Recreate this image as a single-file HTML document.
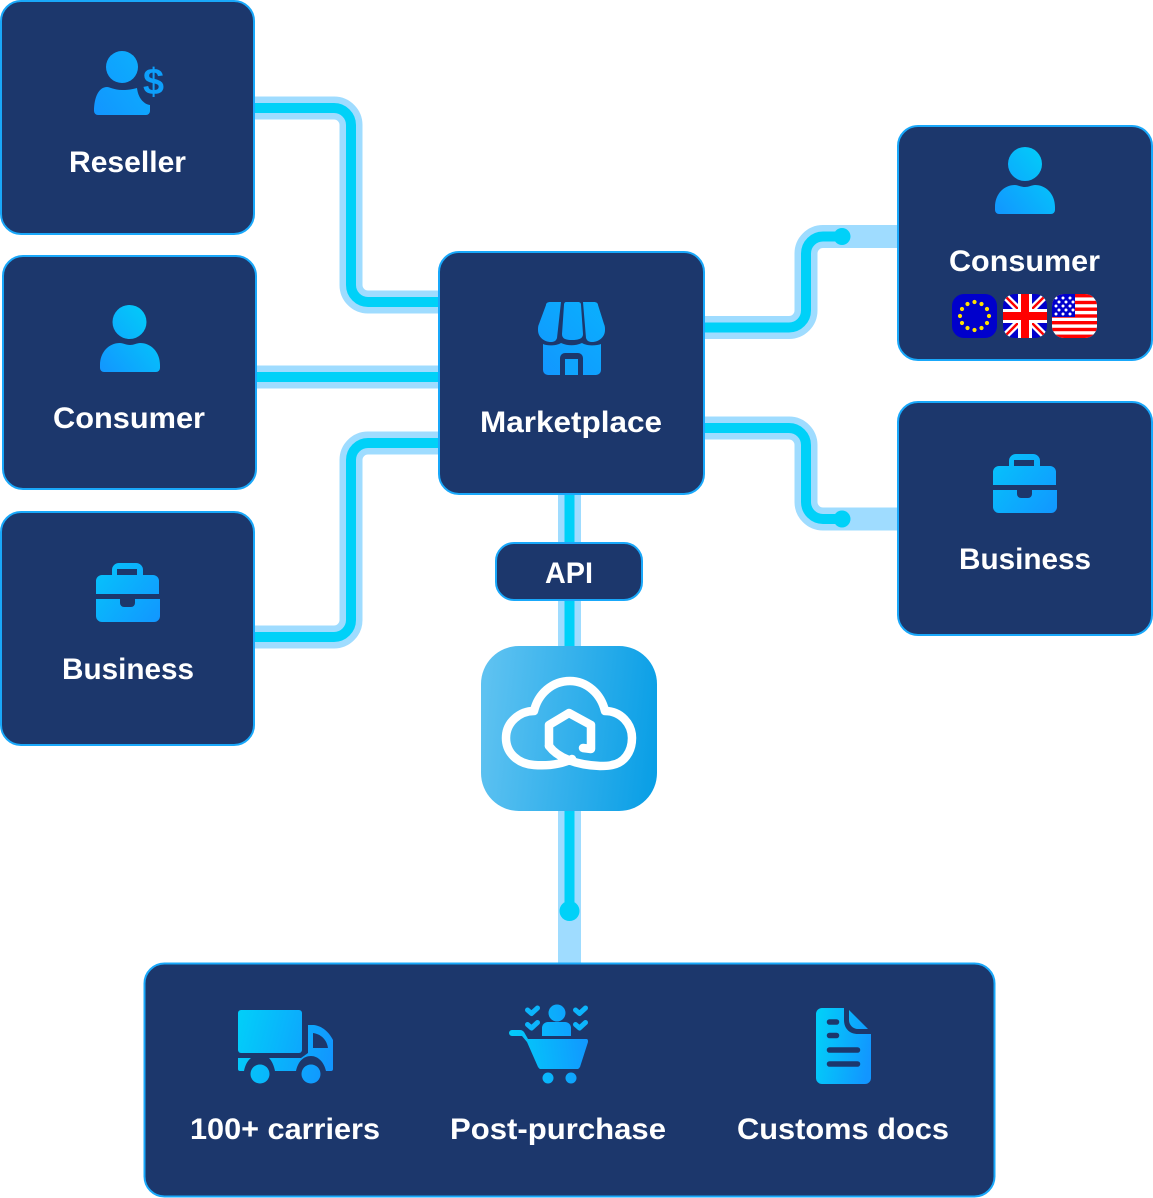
<!DOCTYPE html>
<html>
<head>
<meta charset="utf-8">
<style>
html,body{margin:0;padding:0;background:#fff}
svg{display:block}
text{font-family:"Liberation Sans",sans-serif;font-weight:700;font-size:30px;fill:#fff}
</style>
</head>
<body>
<svg width="1153" height="1198" viewBox="0 0 1153 1198" xmlns="http://www.w3.org/2000/svg">
<defs>
<linearGradient id="gRes" gradientUnits="userSpaceOnUse" x1="94" y1="110" x2="164" y2="60"><stop offset="0" stop-color="#1296ff"/><stop offset="1" stop-color="#0bb4fc"/></linearGradient>
<linearGradient id="gConL" gradientUnits="userSpaceOnUse" x1="100" y1="370" x2="160" y2="320"><stop offset="0" stop-color="#1296ff"/><stop offset="1" stop-color="#02cdf9"/></linearGradient>
<linearGradient id="gConR" gradientUnits="userSpaceOnUse" x1="995" y1="212" x2="1055" y2="162"><stop offset="0" stop-color="#1296ff"/><stop offset="1" stop-color="#02cdf9"/></linearGradient>
<linearGradient id="gStore" gradientUnits="userSpaceOnUse" x1="538" y1="375" x2="605" y2="302"><stop offset="0" stop-color="#1296ff"/><stop offset="1" stop-color="#0ab0fd"/></linearGradient>
<linearGradient id="gBagL" gradientUnits="userSpaceOnUse" x1="96" y1="570" x2="160" y2="622"><stop offset="0" stop-color="#06c2fb"/><stop offset="1" stop-color="#1296ff"/></linearGradient>
<linearGradient id="gBagR" gradientUnits="userSpaceOnUse" x1="993" y1="461" x2="1057" y2="513"><stop offset="0" stop-color="#06c2fb"/><stop offset="1" stop-color="#1296ff"/></linearGradient>
<linearGradient id="gTruck" gradientUnits="userSpaceOnUse" x1="238" y1="1030" x2="333" y2="1055"><stop offset="0" stop-color="#02cdf9"/><stop offset="1" stop-color="#1296ff"/></linearGradient>
<linearGradient id="gCart" gradientUnits="userSpaceOnUse" x1="510" y1="1050" x2="590" y2="1040"><stop offset="0" stop-color="#02cdf9"/><stop offset="1" stop-color="#1296ff"/></linearGradient>
<linearGradient id="gDoc" gradientUnits="userSpaceOnUse" x1="816" y1="1040" x2="871" y2="1050"><stop offset="0" stop-color="#02cdf9"/><stop offset="1" stop-color="#1296ff"/></linearGradient>
<linearGradient id="gLogo" x1="0" y1="0.45" x2="1" y2="0.55"><stop offset="0" stop-color="#5ec2f1"/><stop offset="1" stop-color="#0a9fe6"/></linearGradient>
<clipPath id="cEU"><rect x="952" y="294" width="45" height="44" rx="12"/></clipPath>
<clipPath id="cUK"><rect x="1003" y="294" width="44" height="44" rx="12"/></clipPath>
<clipPath id="cUS"><rect x="1052" y="294" width="45" height="44" rx="12"/></clipPath>
</defs>

<!-- connectors light -->
<g fill="none" stroke="#9fdcff" stroke-width="23">
<path d="M250 108H334a17 17 0 0 1 17 17V285a17 17 0 0 0 17 17H445"/>
<path d="M250 377H445"/>
<path d="M250 637H334a17 17 0 0 0 17 -17V460a17 17 0 0 1 17 -17H445"/>
<path d="M700 327.500H789a17 17 0 0 0 17 -17V253.500a17 17 0 0 1 17 -17H900"/>
<path d="M700 428H789a17 17 0 0 1 17 17V502a17 17 0 0 0 17 17H900"/>
<path d="M569.500 490V965"/>
</g>
<!-- connectors core -->
<g fill="none" stroke="#00d1f8" stroke-width="10">
<path d="M250 108H334a17 17 0 0 1 17 17V285a17 17 0 0 0 17 17H445"/>
<path d="M250 377H445"/>
<path d="M250 637H334a17 17 0 0 0 17 -17V460a17 17 0 0 1 17 -17H445"/>
<path d="M700 327.500H789a17 17 0 0 0 17 -17V253.500a17 17 0 0 1 17 -17H842"/>
<path d="M700 428H789a17 17 0 0 1 17 17V502a17 17 0 0 0 17 17H842"/>
<path d="M569.500 490V911"/>
</g>
<circle cx="842" cy="236.500" r="8.500" fill="#00d1f8"/>
<circle cx="842" cy="519" r="8.500" fill="#00d1f8"/>
<circle cx="569.500" cy="911" r="10" fill="#00d1f8"/>

<!-- boxes -->
<g fill="#1c376c" stroke="#19a8fa" stroke-width="2">
<rect x="1" y="1" width="253" height="233" rx="20"/>
<rect x="3" y="256" width="253" height="233" rx="20"/>
<rect x="1" y="512" width="253" height="233" rx="20"/>
<rect x="439" y="252" width="265" height="242" rx="20"/>
<rect x="898" y="126" width="254" height="234" rx="20"/>
<rect x="898" y="402" width="254" height="233" rx="20"/>
<rect x="496" y="543" width="146" height="57" rx="18"/>
<rect x="144.500" y="963.500" width="850" height="233" rx="20"/>
</g>

<!-- Reseller icon -->
<g fill="url(#gRes)">
<circle cx="122" cy="67" r="16"/>
<path d="M98 115h48a4 4 0 0 0 4-4v-6c-7-1-12-8-13-17c-3 1-8 2-15 2c-8 0-12-3-15-3c-8 0-13 10-13 24v0a4 4 0 0 0 4 4z"/>
</g>
<text x="143" y="94" style="font-size:37px;fill:#0d9ffb" textLength="21" lengthAdjust="spacingAndGlyphs">$</text>

<!-- Consumer left icon -->
<g fill="url(#gConL)">
<circle cx="129.500" cy="322" r="17"/>
<path d="M104 372h52a4 4 0 0 0 4-4v-3c0-13-9-22-20-22c-3 0-6 2-10 2s-7-2-10-2c-11 0-20 9-20 22v3a4 4 0 0 0 4 4z"/>
</g>
<!-- Consumer right icon -->
<g fill="url(#gConR)">
<circle cx="1025" cy="164" r="17"/>
<path d="M999 214h52a4 4 0 0 0 4-4v-3c0-13-9-22-20-22c-3 0-6 2-10 2s-7-2-10-2c-11 0-20 9-20 22v3a4 4 0 0 0 4 4z"/>
</g>

<!-- Briefcase left -->
<path fill="url(#gBagL)" fill-rule="evenodd" d="M112 575v-5a7 7 0 0 1 7-7h17a7 7 0 0 1 7 7v5h10a6 6 0 0 1 6 6v13H96v-13a6 6 0 0 1 6-6zM117 569v6h20v-6zM96 599h24v4a4 4 0 0 0 4 4h7a4 4 0 0 0 4-4v-4h25v17a6 6 0 0 1-6 6H102a6 6 0 0 1-6-6z"/>
<!-- Briefcase right -->
<path fill="url(#gBagR)" fill-rule="evenodd" d="M1009 466v-5a7 7 0 0 1 7-7h17a7 7 0 0 1 7 7v5h10a6 6 0 0 1 6 6v13H993v-13a6 6 0 0 1 6-6zM1014 460v6h20v-6zM993 490h24v4a4 4 0 0 0 4 4h7a4 4 0 0 0 4-4v-4h25v17a6 6 0 0 1-6 6H999a6 6 0 0 1-6-6z"/>

<!-- Store icon -->
<g fill="url(#gStore)">
<path d="M550 302h11l-4 36c-1 3-3 4-6 4c-7 0-13-5-13-12c0-2 0-4 1-6l7-19c0-2 2-3 4-3z"/>
<path d="M566 302h12c2 0 3 1 3 3l2 29c0 5-5 6-11 6s-10-1-10-6l2-29c0-2 1-3 2-3z"/>
<path d="M583 302h11c2 0 4 1 4 3l6 19c1 2 1 4 1 6c0 7-6 12-13 12c-3 0-5-1-6-4z"/>
<path fill-rule="evenodd" d="M543 344c4 2 13 2 18-1c7 3 14 3 21 0c5 3 14 3 19 1v26a5 5 0 0 1-5 5h-18v-16h-13v16h-17a5 5 0 0 1-5-5z"/>
<path d="M560 375v-17a5 5 0 0 1 5-5h13a5 5 0 0 1 5 5v17h-5v-16h-13v16z" fill="#1c376c"/>
<rect x="565" y="359" width="13" height="16" fill="#0fa4fe"/>
</g>

<!-- Flags -->
<g clip-path="url(#cEU)">
<rect x="952" y="294" width="45" height="44" fill="#0000cc"/>
<g fill="#ffe000">
<circle cx="974.500" cy="302" r="2.100"/><circle cx="981.500" cy="304" r="2.100"/><circle cx="987" cy="309" r="2.100"/><circle cx="989" cy="316" r="2.100"/><circle cx="987" cy="323" r="2.100"/><circle cx="981.500" cy="328" r="2.100"/><circle cx="974.500" cy="330" r="2.100"/><circle cx="967.500" cy="328" r="2.100"/><circle cx="962" cy="323" r="2.100"/><circle cx="960" cy="316" r="2.100"/><circle cx="962" cy="309" r="2.100"/><circle cx="967.500" cy="304" r="2.100"/>
</g>
</g>
<g clip-path="url(#cUK)">
<rect x="1003" y="294" width="44" height="44" fill="#0000cc"/>
<path d="M1003 294L1047 338M1047 294L1003 338" stroke="#fff" stroke-width="7"/>
<path d="M1003 294L1047 338M1047 294L1003 338" stroke="#f00" stroke-width="2.500"/>
<rect x="1018" y="294" width="14" height="44" fill="#fff"/>
<rect x="1003" y="309" width="44" height="14" fill="#fff"/>
<rect x="1021" y="294" width="8" height="44" fill="#f00"/>
<rect x="1003" y="312" width="44" height="8" fill="#f00"/>
</g>
<g clip-path="url(#cUS)">
<rect x="1052" y="294" width="45" height="44" fill="#fff"/>
<g fill="#f00">
<rect x="1052" y="294" width="45" height="3.400"/><rect x="1052" y="300.800" width="45" height="3.400"/><rect x="1052" y="307.500" width="45" height="3.400"/><rect x="1052" y="314.300" width="45" height="3.400"/><rect x="1052" y="321" width="45" height="3.400"/><rect x="1052" y="327.800" width="45" height="3.400"/><rect x="1052" y="334.600" width="45" height="3.400"/>
</g>
<rect x="1052" y="294" width="23" height="23" fill="#0000cc"/>
<g fill="#fff">
<circle cx="1056" cy="298" r="1.500"/><circle cx="1063" cy="298" r="1.500"/><circle cx="1070" cy="298" r="1.500"/>
<circle cx="1059" cy="302" r="1.500"/><circle cx="1066" cy="302" r="1.500"/><circle cx="1073" cy="302" r="1.500"/>
<circle cx="1056" cy="306" r="1.500"/><circle cx="1063" cy="306" r="1.500"/><circle cx="1070" cy="306" r="1.500"/>
<circle cx="1059" cy="310" r="1.500"/><circle cx="1066" cy="310" r="1.500"/><circle cx="1073" cy="310" r="1.500"/>
<circle cx="1056" cy="314" r="1.500"/><circle cx="1063" cy="314" r="1.500"/><circle cx="1070" cy="314" r="1.500"/>
</g>
</g>

<!-- Logo -->
<rect x="481" y="646" width="176" height="165" rx="38" fill="url(#gLogo)"/>
<path fill="none" stroke="#fff" stroke-width="8.500" stroke-linecap="round" stroke-linejoin="round" d="M549 746C558 758 576 765 600 766C606 766 609 766 612 765C624 763 632 752 632 738C632 724 621 711 605 711C601 694 587 681 570 681C552 681 538 694 534 711C520 711 506 722 506 738C506 753 518 764 534 765C548 766 562 764 572 759"/>
<path fill="none" stroke="#fff" stroke-width="8.500" stroke-linecap="round" stroke-linejoin="round" d="M549 746V725L569 713L591 725V749L583 748"/>

<!-- Truck -->
<g fill="url(#gTruck)">
<rect x="238" y="1010" width="64" height="43" rx="3"/>
<path d="M238 1058H251C247 1061 245 1066 244 1071H240a2 2 0 0 1-2-2z"/>
<path fill-rule="evenodd" d="M308 1025h6c8 1 15 7 19 15v29a2 2 0 0 1-2 2h-5c-2-9-8-15-15-15c-8 0-13 6-15 15H275c-1-5-3-10-6-13h32l7-5zM313 1033v15h15c-1-8-7-14-15-15z"/>
<circle cx="260" cy="1074" r="9.500"/>
<circle cx="311" cy="1074" r="9.500"/>
</g>

<!-- Cart -->
<g fill="url(#gCart)">
<circle cx="557" cy="1013" r="8.500"/>
<path d="M542 1036v-8a6 6 0 0 1 6-6h17a6 6 0 0 1 6 6v8z"/>
<path d="M512 1030h8c2 0 3 1 4 2l4 7h58c2 0 2 1 2 3l-8 25c-1 1-1 2-3 2h-36c-2 0-2-1-3-2l-11-25l-5-6h-10a3 3 0 0 1 0-6z"/>
<circle cx="548" cy="1078" r="5.500"/>
<circle cx="571" cy="1078" r="5.500"/>
</g>
<g fill="none" stroke="#0cb5fc" stroke-width="5" stroke-linecap="round" stroke-linejoin="round">
<path d="M527.500 1010l4 3.500l6-5.500"/><path d="M527.500 1024.500l4 3.500l6-5.500"/>
<path d="M575.500 1010l4 3.500l6-5.500"/><path d="M575.500 1024.500l4 3.500l6-5.500"/>
</g>

<!-- Doc -->
<path fill="url(#gDoc)" fill-rule="evenodd" d="M822 1008h22v12c0 9 6 14 14 14h13v44a6 6 0 0 1-6 6h-43a6 6 0 0 1-6-6v-64a6 6 0 0 1 6-6zM849 1010l19 19h-10c-5 0-9-4-9-9z"/>
<g fill="none" stroke="#1c376c" stroke-width="5.500" stroke-linecap="round">
<path d="M829.500 1022h7M829.500 1035.500h7M829.500 1050h28M829.500 1064h28"/>
</g>

<!-- Labels -->
<text x="69" y="172" textLength="117" lengthAdjust="spacingAndGlyphs">Reseller</text>
<text x="53" y="428" textLength="152" lengthAdjust="spacingAndGlyphs">Consumer</text>
<text x="62" y="679" textLength="132" lengthAdjust="spacingAndGlyphs">Business</text>
<text x="480" y="432" textLength="182" lengthAdjust="spacingAndGlyphs">Marketplace</text>
<text x="545" y="583" textLength="48" lengthAdjust="spacingAndGlyphs">API</text>
<text x="949" y="271" textLength="151" lengthAdjust="spacingAndGlyphs">Consumer</text>
<text x="959" y="569" textLength="132" lengthAdjust="spacingAndGlyphs">Business</text>
<text x="190" y="1139" textLength="190" lengthAdjust="spacingAndGlyphs">100+ carriers</text>
<text x="450" y="1139" textLength="216" lengthAdjust="spacingAndGlyphs">Post-purchase</text>
<text x="737" y="1139" textLength="212" lengthAdjust="spacingAndGlyphs">Customs docs</text>
</svg>
</body>
</html>
